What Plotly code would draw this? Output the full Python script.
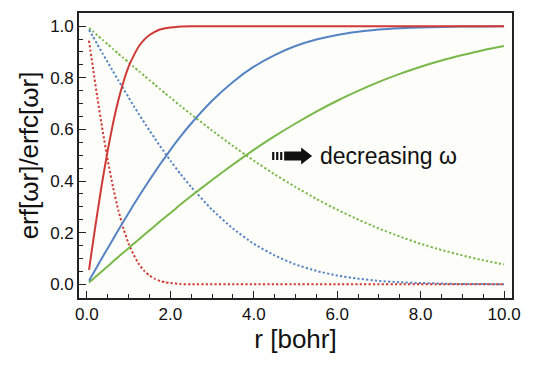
import plotly.graph_objects as go

# r grid (bohr)
r = [0.05, 0.15, 0.25, 0.375, 0.5, 0.625, 0.75, 0.875, 1.0, 1.125, 1.25, 1.375, 1.5, 1.625, 1.75, 1.875, 2.0,
     2.25, 2.5, 3.0, 3.5, 4.0, 4.5, 5.0, 5.5, 6.0, 6.5, 7.0, 7.5, 8.0, 8.5, 9.0, 9.5, 10.0]

# largest omega (red)
erf_red = [0.056, 0.168, 0.276, 0.404, 0.520, 0.623, 0.711, 0.784, 0.843, 0.887, 0.923, 0.948, 0.966, 0.978, 0.987, 0.992, 0.995,
           0.999, 1.000, 1.000, 1.000, 1.000, 1.000, 1.000, 1.000, 1.000, 1.000, 1.000, 1.000, 1.000, 1.000, 1.000, 1.000, 1.000]
erfc_red = [0.944, 0.832, 0.724, 0.596, 0.480, 0.377, 0.289, 0.216, 0.157, 0.113, 0.077, 0.052, 0.034, 0.022, 0.013, 0.008, 0.005,
            0.001, 0.000, 0.000, 0.000, 0.000, 0.000, 0.000, 0.000, 0.000, 0.000, 0.000, 0.000, 0.000, 0.000, 0.000, 0.000, 0.000]

# middle omega (blue)
erf_blue = [0.014, 0.042, 0.070, 0.106, 0.140, 0.175, 0.209, 0.243, 0.276, 0.310, 0.342, 0.373, 0.404, 0.434, 0.464, 0.492, 0.521,
            0.574, 0.623, 0.711, 0.784, 0.843, 0.888, 0.923, 0.948, 0.966, 0.978, 0.987, 0.992, 0.995, 0.997, 0.999, 0.999, 1.000]
erfc_blue = [0.986, 0.958, 0.930, 0.894, 0.860, 0.825, 0.791, 0.757, 0.724, 0.690, 0.658, 0.627, 0.596, 0.566, 0.536, 0.508, 0.479,
             0.426, 0.377, 0.289, 0.216, 0.157, 0.112, 0.077, 0.052, 0.034, 0.022, 0.013, 0.008, 0.005, 0.003, 0.001, 0.001, 0.000]

# smallest omega (green)
erf_green = [0.007, 0.021, 0.035, 0.053, 0.070, 0.088, 0.106, 0.123, 0.140, 0.158, 0.175, 0.192, 0.209, 0.226, 0.243, 0.260, 0.276,
             0.310, 0.342, 0.404, 0.464, 0.521, 0.574, 0.623, 0.669, 0.711, 0.749, 0.784, 0.815, 0.843, 0.867, 0.888, 0.907, 0.923]
erfc_green = [0.993, 0.979, 0.965, 0.947, 0.930, 0.912, 0.894, 0.877, 0.860, 0.842, 0.825, 0.808, 0.791, 0.774, 0.757, 0.740, 0.724,
              0.690, 0.658, 0.596, 0.536, 0.479, 0.426, 0.377, 0.331, 0.289, 0.251, 0.216, 0.185, 0.157, 0.133, 0.112, 0.093, 0.077]

x_ticks = [0, 2, 4, 6, 8, 10]
y_ticks = [0.0, 0.2, 0.4, 0.6, 0.8, 1.0]

RED = "#cf3a36"
BLUE = "#5683c3"
GREEN = "#7ab84a"
FONT = "Liberation Sans, Arial, sans-serif"

fig = go.Figure()
series = [
    (erfc_green, GREEN, "2.2px,2.2px"), (erfc_blue, BLUE, "2.2px,2.2px"), (erfc_red, RED, "2.2px,2.2px"),
    (erf_green, GREEN, "solid"), (erf_blue, BLUE, "solid"), (erf_red, RED, "solid"),
]
for ys, col, dash in series:
    fig.add_trace(go.Scatter(x=r, y=ys, mode="lines",
                             line=dict(color=col, width=2, dash=dash, shape="spline", smoothing=0.5),
                             showlegend=False, hoverinfo="skip"))

axis_common = dict(showline=True, linecolor="#222222", linewidth=1.6, mirror=True,
                   ticks="inside", tickcolor="#222222", tickwidth=1.4, ticklen=7,
                   showgrid=False, zeroline=False, tickformat=".1f",
                   tickfont=dict(family=FONT, size=17, color="#111111"))

fig.update_xaxes(range=[-0.19, 10.19], tickvals=x_ticks,
                 minor=dict(dtick=0.5, ticks="inside", ticklen=4, tickwidth=1.2, tickcolor="#222222"),
                 title=dict(text="r [bohr]", font=dict(family=FONT, size=26, color="#111111"), standoff=6),
                 **axis_common)
fig.update_yaxes(range=[-0.053, 1.051], tickvals=y_ticks,
                 minor=dict(dtick=0.05, ticks="inside", ticklen=4, tickwidth=1.2, tickcolor="#222222"),
                 title=dict(text="erf[ωr]/erfc[ωr]", font=dict(family=FONT, size=26, color="#111111"), standoff=4),
                 **axis_common)

# arrow glyph (pixel-sized path anchored in data space)
fig.add_shape(type="path", xref="x", yref="y", xsizemode="pixel", ysizemode="pixel",
              xanchor=4.44, yanchor=0.497,
              path=("M0,-4 L2.2,-4 L2.2,4 L0,4 Z "
                    "M4,-4 L6.2,-4 L6.2,4 L4,4 Z "
                    "M8,-4 L10.2,-4 L10.2,4 L8,4 Z "
                    "M12,-4.5 L29,-4.5 L29,-8.5 L40,0 L29,8.5 L29,4.5 L12,4.5 Z"),
              fillcolor="#111111", line=dict(width=0))
fig.add_annotation(x=5.54, y=0.497, xref="x", yref="y", text="decreasing ω",
                   showarrow=False, xanchor="left", yanchor="middle",
                   font=dict(family=FONT, size=23, color="#111111"))

fig.update_layout(width=537, height=371, margin=dict(l=79, r=25, t=11, b=73),
                  paper_bgcolor="white", plot_bgcolor="#fdfdfa")

fig.write_html("out.html", config={"displayModeBar": False},
               post_script="document.body.style.margin='0';document.body.style.padding='0';")
